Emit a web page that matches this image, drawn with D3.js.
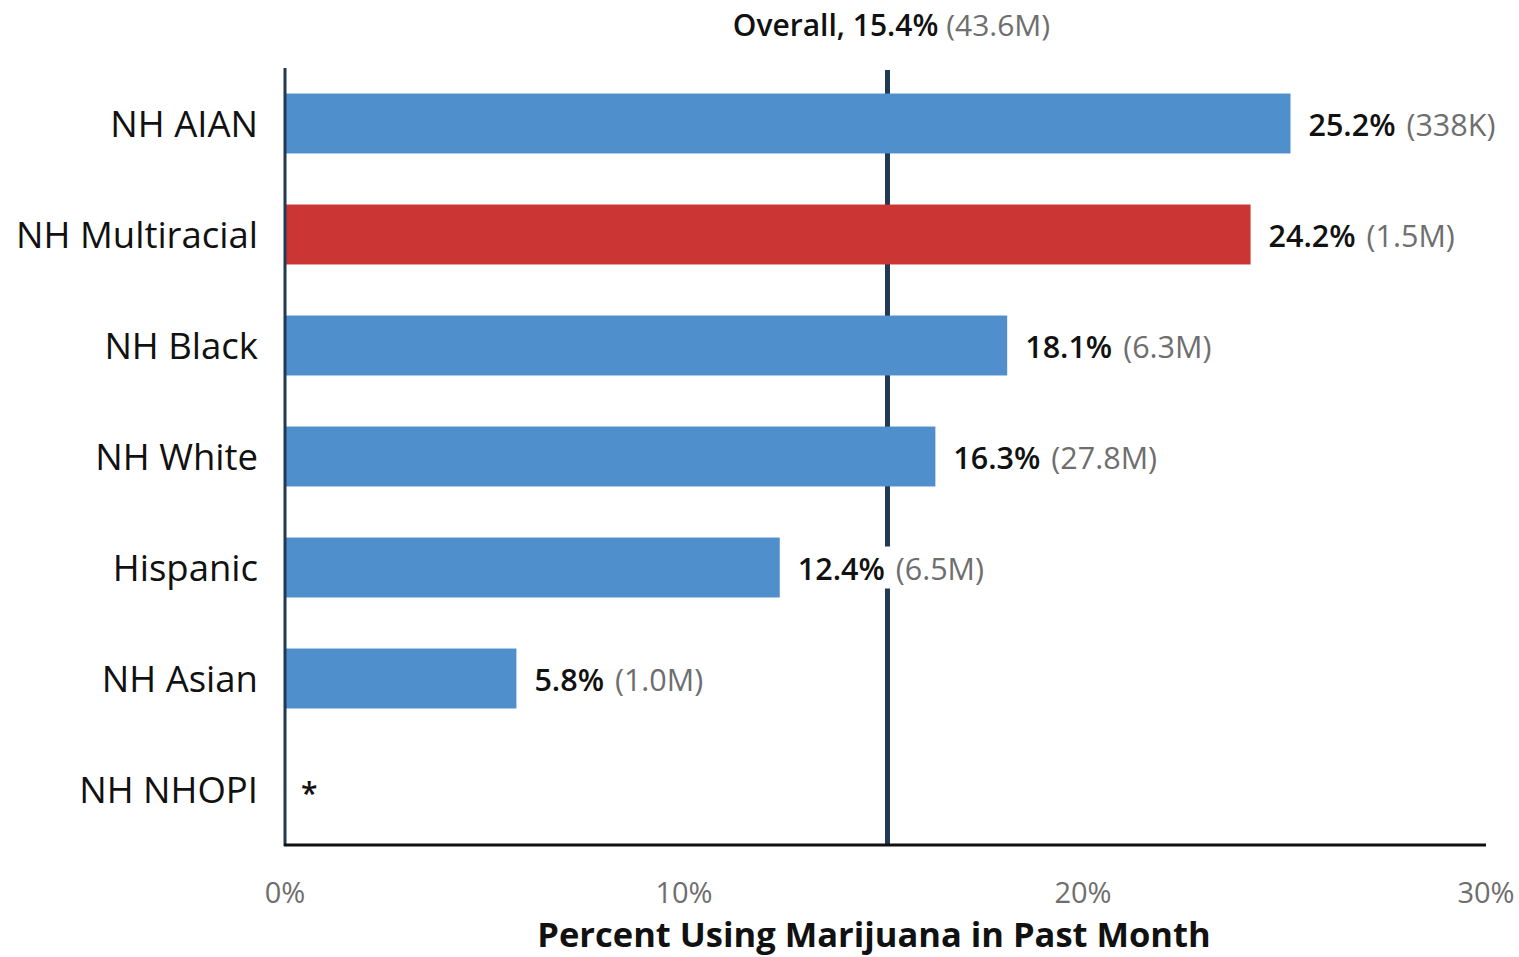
<!DOCTYPE html>
<html><head><meta charset="utf-8">
<script src="https://cdn.jsdelivr.net/npm/d3@7"></script>
<style>
body{margin:0;background:#fff;}
svg{display:block;font-family:"Open Sans","Noto Sans",sans-serif;}
</style></head>
<body>
<svg id="chart" width="1519" height="957"></svg>
<script>
const categories = ["NH AIAN","NH Multiracial","NH Black","NH White","Hispanic","NH Asian","NH NHOPI"];
const percents = [25.2, 24.2, 18.1, 16.3, 12.4, 5.8, null];
const counts = ["338K","1.5M","6.3M","27.8M","6.5M","1.0M",null];
const highlighted = ["NH Multiracial"];
const overallPercent = 15.4;
const overallCount = "43.6M";
const overallLinePos = 15.1;
const xTicks = [0, 10, 20, 30];
const xTitle = "Percent Using Marijuana in Past Month";

const svg = d3.select("#chart");
const x = d3.scaleLinear().domain([0, 30]).range([285, 1482]);
const y = d3.scaleBand().domain(categories).range([68, 845]).paddingInner(0.46).paddingOuter(0.23);

// overall line (behind bars)
svg.append("line")
  .attr("x1", x(overallLinePos)).attr("x2", x(overallLinePos))
  .attr("y1", 70).attr("y2", 845)
  .attr("stroke", "#1f3a52").attr("stroke-width", 5);

// bars
categories.forEach((c, i) => {
  if (percents[i] == null) return;
  svg.append("rect")
    .attr("x", x(0)).attr("y", y(c))
    .attr("width", x(percents[i]) - x(0)).attr("height", y.bandwidth())
    .attr("fill", highlighted.includes(c) ? "#cb3634" : "#4f8fcb");
});

// value labels
categories.forEach((c, i) => {
  const cy = y(c) + y.bandwidth() / 2;
  if (percents[i] == null) {
    svg.append("text").attr("x", x(0) + 16).attr("y", cy + 14)
      .attr("font-size", 30).attr("font-weight", 600).attr("fill", "#111").text("*");
    return;
  }
  const t = svg.append("text").attr("x", x(percents[i]) + 18).attr("y", cy + 12)
    .attr("font-size", 30.5);
  t.append("tspan").attr("font-weight", 600).attr("fill", "#111").text(percents[i].toFixed(1) + "%");
  t.append("tspan").attr("fill", "#6e6e6e").attr("dx", 3).text("(" + counts[i] + ")").attr("x", null);
  t.select("tspan:last-child").node().textContent = " (" + counts[i] + ")";
  const box = t.node().getBBox();
  svg.insert("rect", "text")
    .attr("x", box.x - 4).attr("y", box.y).attr("width", box.width + 8).attr("height", box.height)
    .attr("fill", "#fff");
});

// category labels
categories.forEach(c => {
  svg.append("text").attr("x", 258).attr("y", y(c) + y.bandwidth() / 2 + 13)
    .attr("text-anchor", "end").attr("font-size", 36.5).attr("font-weight", 500)
    .attr("fill", "#111").text(c);
});

// axes lines
svg.append("line").attr("x1", x(0)).attr("x2", x(0)).attr("y1", 68).attr("y2", 846)
  .attr("stroke", "#1f3a52").attr("stroke-width", 3);
svg.append("line").attr("x1", x(0) - 1).attr("x2", 1486).attr("y1", 845).attr("y2", 845)
  .attr("stroke", "#111").attr("stroke-width", 3);

// tick labels
xTicks.forEach(v => {
  svg.append("text").attr("x", x(v) + (v === 30 ? 4 : 0)).attr("y", 903)
    .attr("text-anchor", "middle").attr("font-size", 29).attr("fill", "#6e6e6e").text(v + "%");
});

// x title
svg.append("text").attr("x", 874).attr("y", 947).attr("text-anchor", "middle")
  .attr("font-size", 34.5).attr("font-weight", 700).attr("fill", "#111").text(xTitle);

// overall label
const ot = svg.append("text").attr("x", x(overallLinePos) + 4).attr("y", 36)
  .attr("text-anchor", "middle").attr("font-size", 30);
ot.append("tspan").attr("font-weight", 600).attr("fill", "#111").text("Overall, " + overallPercent.toFixed(1) + "%");
ot.append("tspan").attr("fill", "#6e6e6e").text(" (" + overallCount + ")");
</script>
</body></html>
